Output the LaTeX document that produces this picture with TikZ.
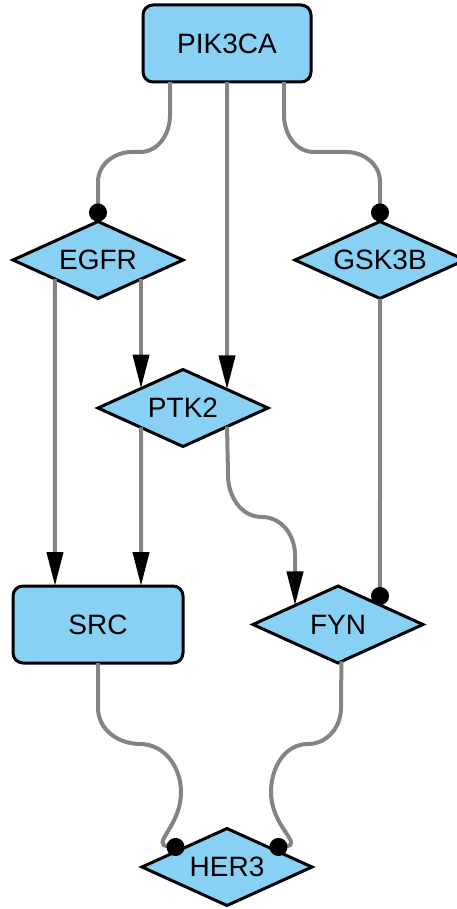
\documentclass[tikz,border=0pt]{standalone}
\usepackage{fontspec}
\setmainfont{Liberation Sans}
\usetikzlibrary{shapes.geometric,arrows.meta,calc}
\definecolor{nodefill}{RGB}{137,208,245}
\definecolor{edgegrey}{RGB}{132,132,132}
\tikzset{
  boxnode/.style={draw=black, line width=3pt, fill=nodefill, rounded corners=10pt,
    minimum width=168pt, minimum height=77pt, inner sep=0pt, outer sep=0pt,
    font=\fontsize{28}{32}\selectfont},
  dianode/.style={diamond, aspect=2.2, draw=black, line width=3pt, fill=nodefill,
    minimum width=170pt, minimum height=77pt, inner sep=0pt, outer sep=0pt,
    font=\fontsize{28}{32}\selectfont},
  conn/.style={draw=edgegrey, line width=4pt},
  activ/.style={conn, -{Triangle[length=34pt,width=16pt,color=black]}},
  bind/.style={conn, -{Circle[length=18pt,color=black]}}
}
\begin{document}
\begin{tikzpicture}[x=1pt,y=1pt]
\useasboundingbox (0,0) rectangle (457,-909);
% nodes
\node[boxnode] (pik) at (227,-43.5) {PIK3CA};
\node[dianode] (egfr) at (98,-260) {EGFR};
\node[dianode] (gsk) at (380,-260) {GSK3B};
\node[dianode] (ptk) at (183,-408) {PTK2};
\node[boxnode, minimum width=170pt] (src) at (98,-624.5) {SRC};
\node[dianode] (fyn) at (338,-624.5) {FYN};
\node[dianode] (her) at (227,-867) {HER3};
% connectors
\draw[bind] ([xshift=-57pt]pik.south) -- (170,-115) to[out=-90,in=0] (140,-152)
  -- (132,-152) to[out=180,in=90] (98,-182) -- (egfr.north);
\draw[bind] ([xshift=57pt]pik.south) -- (284,-115) to[out=-90,in=180] (314,-152)
  -- (346,-152) to[out=0,in=90] (380,-182) -- (gsk.north);
\draw[activ] (pik.south) -- ($(ptk.north)!0.518!(ptk.east)$);
\draw[activ] ($(egfr.south)!0.506!(egfr.west)$) -- ($(src.north west)!0.247!(src.north east)$);
\draw[activ] ($(egfr.south)!0.506!(egfr.east)$) -- ($(ptk.north)!0.494!(ptk.west)$);
\draw[activ] ($(ptk.south)!0.494!(ptk.west)$) -- ($(src.north west)!0.753!(src.north east)$);
\draw[activ] ($(ptk.south)!0.518!(ptk.east)$) -- (228,-475) to[out=-90,in=180] (262,-517)
  to[out=0,in=90] (295,-555) -- ($(fyn.north)!0.506!(fyn.west)$);
\draw[bind] (gsk.south) -- ($(fyn.north)!0.494!(fyn.east)$);
\draw[bind] (src.south) -- (98,-708) to[out=-90,in=180] (140,-744) to[out=0,in=90] (181,-792)
  to[out=-90,in=175,looseness=1.6] ($(her.north)!0.5!(her.west)$);
\draw[bind] ($(fyn.south)!0.04!(fyn.east)$) -- (341,-708) to[out=-90,in=0] (308,-744)
  to[out=180,in=90] (271,-792) to[out=-90,in=5,looseness=1.6] ($(her.north)!0.5!(her.east)$);
\end{tikzpicture}
\end{document}
